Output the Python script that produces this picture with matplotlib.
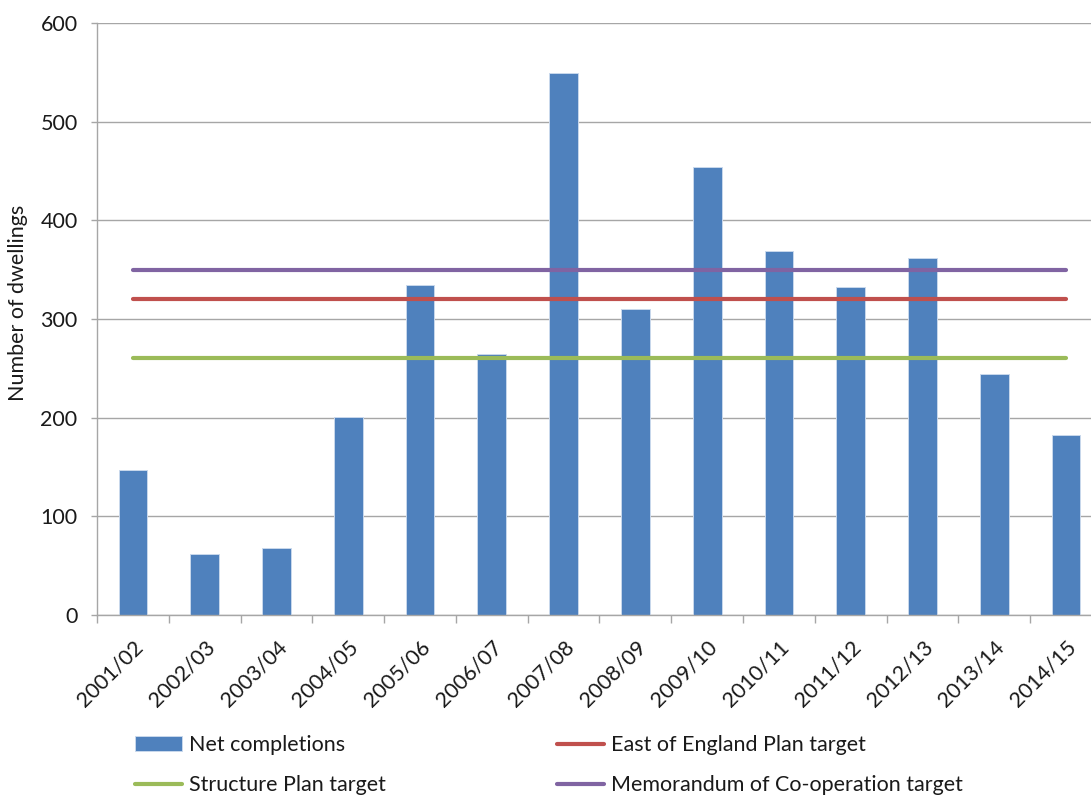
import matplotlib
matplotlib.use("Agg")
import matplotlib.pyplot as plt
from matplotlib.patches import Patch
from matplotlib.lines import Line2D
import numpy as np

years = ["2001/02", "2002/03", "2003/04", "2004/05", "2005/06", "2006/07", "2007/08",
         "2008/09", "2009/10", "2010/11", "2011/12", "2012/13", "2013/14", "2014/15"]
net_completions = [147, 62, 68, 201, 334, 265, 549, 310, 454, 369, 332, 362, 244, 182]
east_of_england_target = 320
structure_plan_target = 260
memorandum_target = 350

C_BAR = "#4F81BD"
C_RED = "#C0504D"
C_GREEN = "#9BBB59"
C_PURPLE = "#8064A2"
C_GRID = "#a6a6a6"
C_TEXT = "#1a1a1a"

plt.rcParams['font.family'] = ['Lato', 'DejaVu Sans']
FS = 15.5

W, H = 1091, 801
fig = plt.figure(figsize=(W / 100, H / 100), dpi=100)
fig.patch.set_facecolor("white")
ax = fig.add_axes([97 / W, (H - 615) / H, (1102 - 97) / W, (615 - 23) / H])

n = len(years)
x = np.arange(n)
ax.bar(x, net_completions, width=0.4, color=C_BAR, edgecolor="#c9d8ec", linewidth=0.7, zorder=2)

lw = 3.0
ax.plot(x, [east_of_england_target] * n, color=C_RED, lw=lw, solid_capstyle="round", zorder=3)
ax.plot(x, [structure_plan_target] * n, color=C_GREEN, lw=lw, solid_capstyle="round", zorder=3)
ax.plot(x, [memorandum_target] * n, color=C_PURPLE, lw=lw, solid_capstyle="round", zorder=3)

ax.set_xlim(-0.5, n - 0.5)
ax.set_ylim(0, 600)
ax.set_yticks(range(0, 601, 100))
ax.yaxis.grid(True, color=C_GRID, lw=1.0, zorder=0)
ax.set_axisbelow(True)

for s in ["top", "right"]:
    ax.spines[s].set_visible(False)
for s in ["left", "bottom"]:
    ax.spines[s].set_color(C_GRID)
    ax.spines[s].set_linewidth(1.0)

ax.tick_params(axis="y", length=4, width=1, color=C_GRID, pad=10, labelsize=FS, labelcolor=C_TEXT)
ax.set_xticks(x)
ax.set_xticklabels(years, rotation=45, ha="right", va="top", rotation_mode="anchor",
                   fontsize=FS, color=C_TEXT)
ax.tick_params(axis="x", which="major", length=0, pad=16)
ax.set_xticks(np.arange(n + 1) - 0.5, minor=True)
ax.tick_params(axis="x", which="minor", length=6, width=1, color=C_GRID)

fig.text(18 / W, 1 - 303 / H, "Number of dwellings", rotation=90, ha="center", va="center",
         fontsize=FS, color=C_TEXT)

h_net = Patch(facecolor=C_BAR, edgecolor="#c9d8ec", linewidth=0.7, label="Net completions")
h_struct = Line2D([], [], color=C_GREEN, lw=lw, solid_capstyle="round", label="Structure Plan target")
h_east = Line2D([], [], color=C_RED, lw=lw, solid_capstyle="round", label="East of England Plan target")
h_memo = Line2D([], [], color=C_PURPLE, lw=lw, solid_capstyle="round", label="Memorandum of Co-operation target")

common = dict(loc="upper left", frameon=False, fontsize=FS, borderpad=0, borderaxespad=0,
              handlelength=2.2, handleheight=0.65, handletextpad=0.3, labelspacing=0.95,
              labelcolor=C_TEXT)
leg1 = fig.legend(handles=[h_net, h_struct], bbox_to_anchor=(135 / W, 1 - 735 / H), **common)
leg2 = fig.legend(handles=[h_east, h_memo], bbox_to_anchor=(557 / W, 1 - 735 / H), **common)

fig.savefig("out.png", dpi=100)
